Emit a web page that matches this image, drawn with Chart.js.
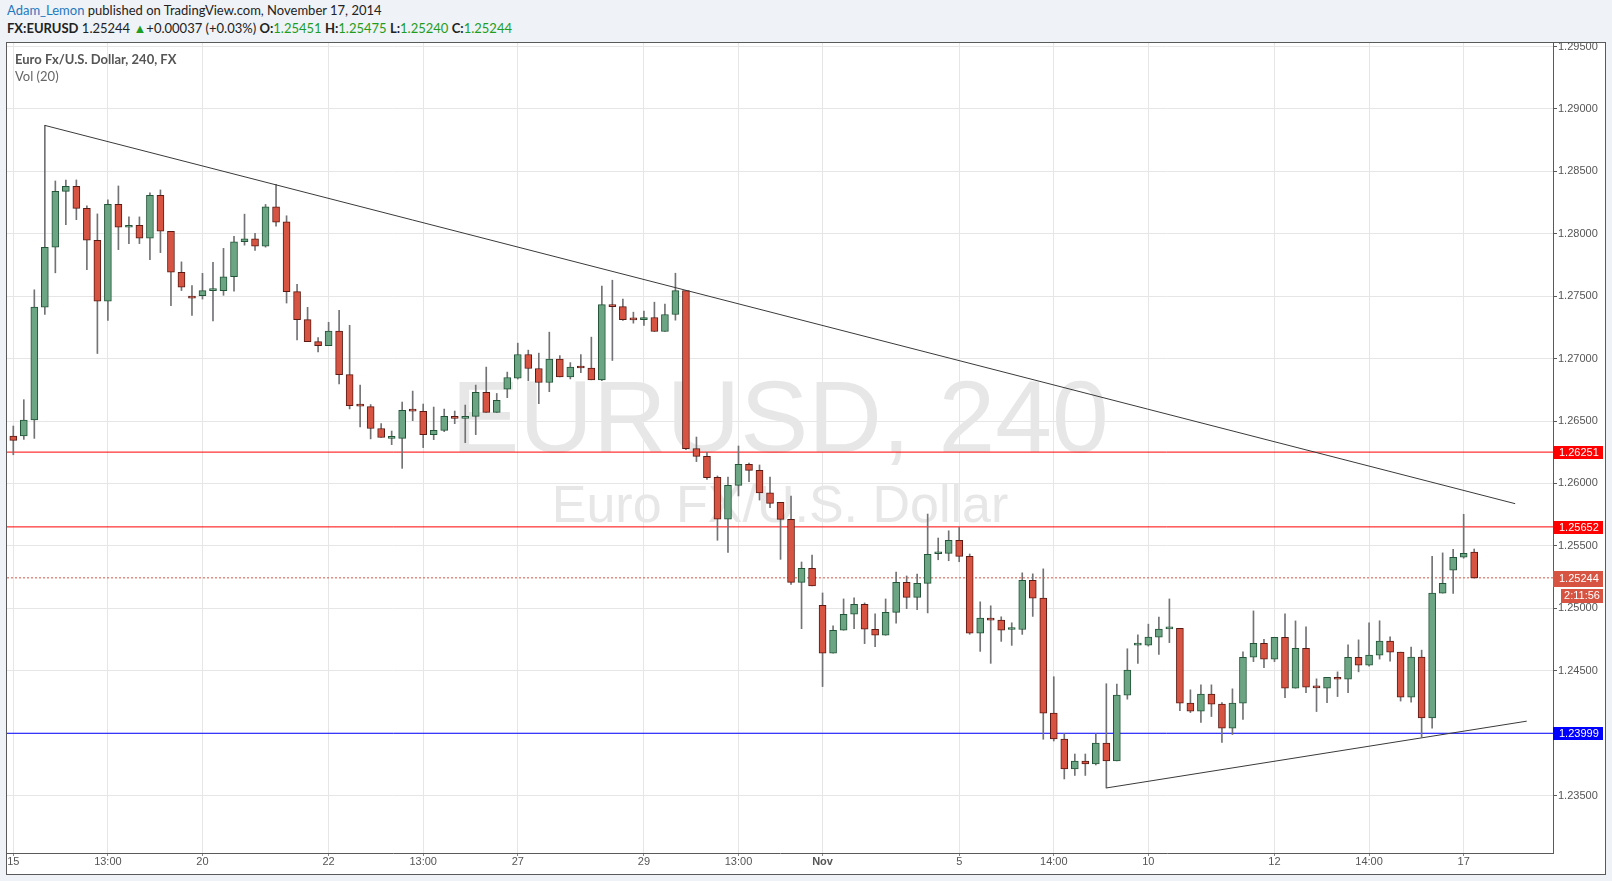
<!DOCTYPE html>
<html>
<head>
<meta charset="utf-8">
<script src="https://cdn.jsdelivr.net/npm/chart.js@4.4.1/dist/chart.umd.min.js"></script>
<style>
html, body { margin: 0; padding: 0; }
body { width: 1612px; height: 881px; background: #eff2f6; position: relative; overflow: hidden; font-family: Lato, "Open Sans", sans-serif; }
#frame { position: absolute; left: 6px; top: 42px; width: 1598px; height: 831px; border: 1px solid #5a5a5a; background: #fff; }
#c { position: absolute; left: 0; top: 0; }
#head { position: absolute; left: 0; top: 0; width: 1612px; height: 42px; background: #eff2f6; }
.h1 { position: absolute; left: 7px; top: 2px; font-size: 13px; color: #222; white-space: nowrap; }
.h2 { position: absolute; left: 7px; top: 20px; font-size: 13px; color: #222; white-space: nowrap; }
.author { color: #1f78bf; }
.g { color: #1f9d1f; }
.title { position: absolute; left: 15px; top: 51px; font-size: 13px; font-weight: bold; color: #555; white-space: nowrap; }
.vol { position: absolute; left: 15px; top: 68px; font-size: 13px; color: #666; white-space: nowrap; }
</style>
</head>
<body>
<div id="frame"></div>
<canvas id="c" width="1612" height="881"></canvas>
<div id="head">
  <div class="h1"><span class="author">Adam_Lemon</span> published on TradingView.com, November 17, 2014</div>
  <div class="h2"><b>FX:EURUSD</b> 1.25244 <span class="g">&#9650;</span>+0.00037 (+0.03%) <b>O:</b><span class="g">1.25451</span> <b>H:</b><span class="g">1.25475</span> <b>L:</b><span class="g">1.25240</span> <b>C:</b><span class="g">1.25244</span></div>
</div>
<div class="title">Euro Fx/U.S. Dollar, 240, FX</div>
<div class="vol">Vol (20)</div>
<script>
// ================= DATA (EURUSD 240, Oct 15 - Nov 17 2014) =================

const opens = [
  1.2638, 1.2638, 1.26508, 1.27412, 1.27892, 1.2834, 1.2838, 1.28204, 1.27948, 1.2746,
  1.28236, 1.28052, 1.28068, 1.27964, 1.28308, 1.2802, 1.27692, 1.275, 1.27504, 1.27544,
  1.27544, 1.27656, 1.27936, 1.2796, 1.27901, 1.28216, 1.28096, 1.27536, 1.27312, 1.27136,
  1.27104, 1.2722, 1.26872, 1.26624, 1.26616, 1.2644, 1.26361, 1.26361, 1.26585, 1.26577,
  1.26391, 1.26425, 1.26537, 1.26521, 1.26537, 1.26729, 1.26569, 1.26755, 1.26844, 1.27033,
  1.26921, 1.26809, 1.26997, 1.26853, 1.26928, 1.26925, 1.2683, 1.27433, 1.27417, 1.27313,
  1.27311, 1.27329, 1.27217, 1.27353, 1.27545, 1.26279, 1.26217, 1.2605, 1.25713, 1.25985,
  1.26153, 1.26105, 1.25925, 1.25848, 1.25712, 1.25208, 1.2532, 1.25024, 1.2464, 1.24824,
  1.24952, 1.25032, 1.24832, 1.24784, 1.24968, 1.25208, 1.25088, 1.252, 1.25437, 1.2544,
  1.25544, 1.25416, 1.24801, 1.24921, 1.24905, 1.2483, 1.2483, 1.25225, 1.25081, 1.24161,
  1.23953, 1.23713, 1.23777, 1.23753, 1.23921, 1.23777, 1.24305, 1.24705, 1.24705, 1.24769,
  1.24835, 1.2484, 1.2424, 1.24176, 1.24312, 1.24232, 1.2404, 1.2424, 1.24608, 1.2472,
  1.24592, 1.24768, 1.2436, 1.2468, 1.24368, 1.2436, 1.24448, 1.24432, 1.24608, 1.24545,
  1.24625, 1.24737, 1.24649, 1.24289, 1.24609, 1.24121, 1.25121, 1.25305, 1.25409, 1.25451
];

const highs = [
  1.2646, 1.26671, 1.27551, 1.28868, 1.28423, 1.28431, 1.28431, 1.28223, 1.28159, 1.28271,
  1.28383, 1.28135, 1.28135, 1.28327, 1.28351, 1.2802, 1.27775, 1.27585, 1.27683, 1.27771,
  1.27883, 1.27979, 1.28157, 1.28003, 1.28235, 1.28395, 1.28144, 1.27595, 1.27411, 1.27168,
  1.27291, 1.27387, 1.27267, 1.26787, 1.26632, 1.2648, 1.2642, 1.26652, 1.2674, 1.26636,
  1.26612, 1.26596, 1.2658, 1.26628, 1.26788, 1.26932, 1.26721, 1.26892, 1.27124, 1.27068,
  1.27044, 1.27212, 1.27024, 1.26968, 1.27032, 1.27172, 1.2758, 1.27628, 1.27476, 1.27372,
  1.2738, 1.27452, 1.27436, 1.27684, 1.27545, 1.26372, 1.26249, 1.2606, 1.26052, 1.263,
  1.26164, 1.26148, 1.26052, 1.25848, 1.25899, 1.25371, 1.25427, 1.25123, 1.24859, 1.25075,
  1.25083, 1.25043, 1.24955, 1.25075, 1.25291, 1.25259, 1.25275, 1.25755, 1.25563, 1.25621,
  1.25648, 1.25435, 1.25052, 1.2502, 1.24932, 1.24884, 1.25284, 1.25276, 1.25316, 1.24452,
  1.23996, 1.23833, 1.23833, 1.23996, 1.24396, 1.24393, 1.24676, 1.24788, 1.24873, 1.2493,
  1.25075, 1.2484, 1.24347, 1.24387, 1.24387, 1.24245, 1.24355, 1.24651, 1.24979, 1.24752,
  1.24768, 1.24955, 1.24899, 1.24851, 1.24435, 1.24448, 1.24491, 1.24707, 1.24747, 1.24884,
  1.249, 1.24772, 1.24649, 1.2469, 1.24665, 1.25417, 1.25444, 1.25473, 1.25753, 1.25475
];

const lows = [
  1.2623, 1.26353, 1.26361, 1.27353, 1.27687, 1.28073, 1.28113, 1.27713, 1.27041, 1.27305,
  1.27873, 1.27921, 1.27921, 1.27793, 1.27849, 1.27425, 1.27545, 1.27345, 1.27477, 1.27301,
  1.27507, 1.27541, 1.27909, 1.27867, 1.27893, 1.28061, 1.27445, 1.27149, 1.27136, 1.27053,
  1.27104, 1.26797, 1.26597, 1.26453, 1.26357, 1.26368, 1.26311, 1.26121, 1.26503, 1.26287,
  1.26351, 1.26415, 1.26479, 1.26327, 1.26391, 1.26569, 1.26569, 1.26687, 1.26836, 1.26823,
  1.26639, 1.26735, 1.26853, 1.26837, 1.26888, 1.2683, 1.26823, 1.26985, 1.27305, 1.27284,
  1.27265, 1.27217, 1.27217, 1.27308, 1.26271, 1.26175, 1.26033, 1.25545, 1.25447, 1.259,
  1.26015, 1.25867, 1.25807, 1.25392, 1.25192, 1.24837, 1.25179, 1.24373, 1.2464, 1.24824,
  1.24837, 1.24717, 1.24693, 1.24784, 1.2488, 1.24997, 1.24989, 1.24963, 1.25389, 1.25381,
  1.25373, 1.24792, 1.24655, 1.24559, 1.24735, 1.24703, 1.24791, 1.24935, 1.23951, 1.23937,
  1.23633, 1.23661, 1.23661, 1.23745, 1.23561, 1.23777, 1.24272, 1.24559, 1.24697, 1.24631,
  1.24725, 1.24181, 1.24165, 1.24085, 1.24133, 1.23925, 1.23989, 1.24109, 1.24573, 1.24525,
  1.24573, 1.24285, 1.2436, 1.24325, 1.24173, 1.24245, 1.24293, 1.24325, 1.24491, 1.24537,
  1.24593, 1.24577, 1.24257, 1.24249, 1.23969, 1.24039, 1.25121, 1.25119, 1.25401, 1.2524
];

const closes = [
  1.26345, 1.26508, 1.27412, 1.27892, 1.2834, 1.2838, 1.28204, 1.27948, 1.2746, 1.28236,
  1.28052, 1.28068, 1.27964, 1.28308, 1.2802, 1.27692, 1.27572, 1.27484, 1.27544, 1.27548,
  1.27656, 1.27936, 1.2796, 1.27901, 1.28216, 1.28093, 1.27536, 1.27312, 1.27136, 1.27104,
  1.2722, 1.26872, 1.26624, 1.2662, 1.2644, 1.26368, 1.26362, 1.26585, 1.2658, 1.26391,
  1.26425, 1.26537, 1.26521, 1.26537, 1.26729, 1.26569, 1.26665, 1.26849, 1.27033, 1.26921,
  1.26809, 1.26997, 1.26853, 1.26933, 1.26925, 1.2683, 1.27433, 1.27417, 1.27311, 1.2731,
  1.27329, 1.27217, 1.27353, 1.27545, 1.26279, 1.26217, 1.26047, 1.25713, 1.25985, 1.26153,
  1.26105, 1.25925, 1.25841, 1.25712, 1.25208, 1.2532, 1.25179, 1.2464, 1.24824, 1.24952,
  1.25032, 1.24832, 1.24784, 1.24968, 1.25208, 1.25088, 1.252, 1.25432, 1.25442, 1.25544,
  1.25416, 1.248, 1.24921, 1.24905, 1.24825, 1.24835, 1.25225, 1.25081, 1.24161, 1.23953,
  1.23713, 1.23777, 1.23753, 1.23921, 1.23777, 1.24305, 1.24505, 1.24709, 1.24769, 1.24833,
  1.2484, 1.2424, 1.24176, 1.24312, 1.24232, 1.2404, 1.2424, 1.24608, 1.2472, 1.24592,
  1.24768, 1.2436, 1.2468, 1.24368, 1.24363, 1.24448, 1.24432, 1.24608, 1.24544, 1.24625,
  1.24737, 1.24649, 1.24289, 1.24609, 1.24121, 1.25121, 1.25201, 1.25409, 1.25441, 1.25244
];

// time axis: bar index of each label
const xTickIdx  = [0, 9, 18, 30, 39, 48, 60, 69, 77, 90, 99, 108, 120, 129, 138];
const xTickText = ['15', '13:00', '20', '22', '13:00', '27', '29', '13:00', 'Nov', '5', '14:00', '10', '12', '14:00', '17'];
const xMin = -0.6;
const xMax = 146.5;

const yTicks = [1.235, 1.24, 1.245, 1.25, 1.255, 1.26, 1.265, 1.27, 1.275, 1.28, 1.285, 1.29, 1.295];
const yMin = 1.2304;
const yMax = 1.29528;

// drawings
const trendUpperX = [3, 142.9];
const trendUpperY = [1.28868, 1.25838];
const trendLowerX = [104, 144];
const trendLowerY = [1.23561, 1.24096];
const redLevels = [1.26251, 1.25652];
const blueLevels = [1.23999];
const lastPrice = 1.25244;
const countdown = '2:11:56';

// ================= COLORS =================
const UP = '#6ba583', UP_BORDER = '#225437';
const DOWN = '#d75442', DOWN_BORDER = '#5b1a13';
const WICK = '#737375';
const AXIS_TEXT = '#555';
const FONT = '"Liberation Sans", Arial, sans-serif';

const isUp = closes.map((c, i) => c >= opens[i]);

const wickData = highs.map((h, i) => ({ x: i, y: [lows[i], h] }));
const bodyData = opens.map((o, i) => ({ x: i, y: [o, closes[i]] }));

function hLine(v) {
    return [{ x: xMin, y: v }, { x: xMax, y: v }];
}

const levelSets = [];
redLevels.forEach(v => levelSets.push({
    type: 'line', data: hLine(v), borderColor: '#ff0000', borderWidth: 1,
    pointRadius: 0, order: 3
}));
blueLevels.forEach(v => levelSets.push({
    type: 'line', data: hLine(v), borderColor: '#0000ff', borderWidth: 1,
    pointRadius: 0, order: 3
}));
levelSets.push({
    type: 'line', data: hLine(lastPrice), borderColor: DOWN, borderWidth: 1,
    borderDash: [2, 2], pointRadius: 0, order: 3
});

// ================= PLUGINS =================

const watermark = {
    id: 'watermark',
    beforeDatasetsDraw(chart) {
        const { ctx, chartArea } = chart;
        const cx = (chartArea.left + chartArea.right) / 2;
        ctx.save();
        ctx.fillStyle = '#e7e7e7';
        ctx.textAlign = 'center';
        ctx.textBaseline = 'alphabetic';
        ctx.font = '102px ' + FONT;
        ctx.fillText('EURUSD, 240', cx, 452);
        ctx.font = '52px ' + FONT;
        ctx.fillText('Euro FX/U.S. Dollar', cx, 522);
        ctx.restore();
    }
};

const priceTags = {
    id: 'priceTags',
    afterDraw(chart) {
        const { ctx, chartArea } = chart;
        const y = chart.scales.y;
        const x0 = chartArea.right;
        const tags = [];
        redLevels.forEach(v => tags.push({ v, color: '#ff0000' }));
        blueLevels.forEach(v => tags.push({ v, color: '#0000ff' }));

        ctx.save();
        ctx.font = '11px ' + FONT;
        ctx.textBaseline = 'middle';
        tags.forEach(t => {
            const py = Math.round(y.getPixelForValue(t.v));
            ctx.fillStyle = t.color;
            ctx.fillRect(x0, py - 6, 50, 13);
            ctx.fillStyle = '#fff';
            ctx.textAlign = 'left';
            ctx.fillText(t.v.toFixed(5), x0 + 6, py + 0.5);
        });

        // last price + bar countdown
        const lp = Math.round(y.getPixelForValue(lastPrice));
        ctx.fillStyle = DOWN;
        ctx.fillRect(x0, lp - 7, 50, 16);
        ctx.fillRect(x0 + 8, lp + 11, 42, 14);
        ctx.fillStyle = '#fff';
        ctx.textAlign = 'left';
        ctx.fillText(lastPrice.toFixed(5), x0 + 6, lp + 1);
        ctx.textAlign = 'center';
        ctx.fillText(countdown, x0 + 29, lp + 18);
        ctx.restore();
    }
};

// ================= CHART =================

new Chart(document.getElementById('c'), {
    type: 'bar',
    data: {
        datasets: [
            {
                type: 'line',
                data: trendUpperX.map((x, i) => ({ x, y: trendUpperY[i] })),
                borderColor: '#3a3a3a', borderWidth: 1, pointRadius: 0, order: 0
            },
            {
                type: 'line',
                data: trendLowerX.map((x, i) => ({ x, y: trendLowerY[i] })),
                borderColor: '#3a3a3a', borderWidth: 1, pointRadius: 0, order: 0
            },
            {
                data: bodyData,
                backgroundColor: isUp.map(u => u ? UP : DOWN),
                borderColor: isUp.map(u => u ? UP_BORDER : DOWN_BORDER),
                borderWidth: 1,
                borderSkipped: false,
                barThickness: 7,
                minBarLength: 2,
                grouped: false,
                order: 1
            },
            {
                data: wickData,
                backgroundColor: WICK,
                borderWidth: 0,
                barThickness: 1,
                grouped: false,
                order: 2
            },
            ...levelSets
        ]
    },
    options: {
        responsive: false,
        animation: false,
        devicePixelRatio: 1,
        layout: { padding: { left: 7, top: 43, right: 7, bottom: 7 } },
        plugins: { legend: { display: false }, tooltip: { enabled: false } },
        scales: {
            x: {
                type: 'linear',
                offset: false,
                min: xMin,
                max: xMax,
                afterBuildTicks: s => { s.ticks = xTickIdx.map(v => ({ value: v })); },
                afterFit: s => { s.height = 21; },
                grid: { offset: false, color: '#e6e6e6', tickColor: '#8a8a8a', tickLength: 3 },
                border: { display: true, color: '#5a5a5a' },
                ticks: {
                    autoSkip: false,
                    maxRotation: 0,
                    padding: 0,
                    color: AXIS_TEXT,
                    font: ctx => ({
                        family: FONT, size: 11, lineHeight: 1,
                        weight: (ctx.tick && xTickText[xTickIdx.indexOf(ctx.tick.value)] === 'Nov') ? 'bold' : 'normal'
                    }),
                    callback: v => xTickText[xTickIdx.indexOf(v)]
                }
            },
            y: {
                position: 'right',
                min: yMin,
                max: yMax,
                afterBuildTicks: s => { s.ticks = yTicks.map(v => ({ value: v })); },
                afterFit: s => { s.width = 52; },
                grid: { color: '#e6e6e6', tickColor: '#5a5a5a', tickLength: 4 },
                border: { display: true, color: '#5a5a5a' },
                ticks: {
                    padding: 1,
                    color: AXIS_TEXT,
                    font: { family: FONT, size: 11 },
                    callback: v => v.toFixed(5)
                }
            }
        }
    },
    plugins: [watermark, priceTags]
});
</script>
</body>
</html>
